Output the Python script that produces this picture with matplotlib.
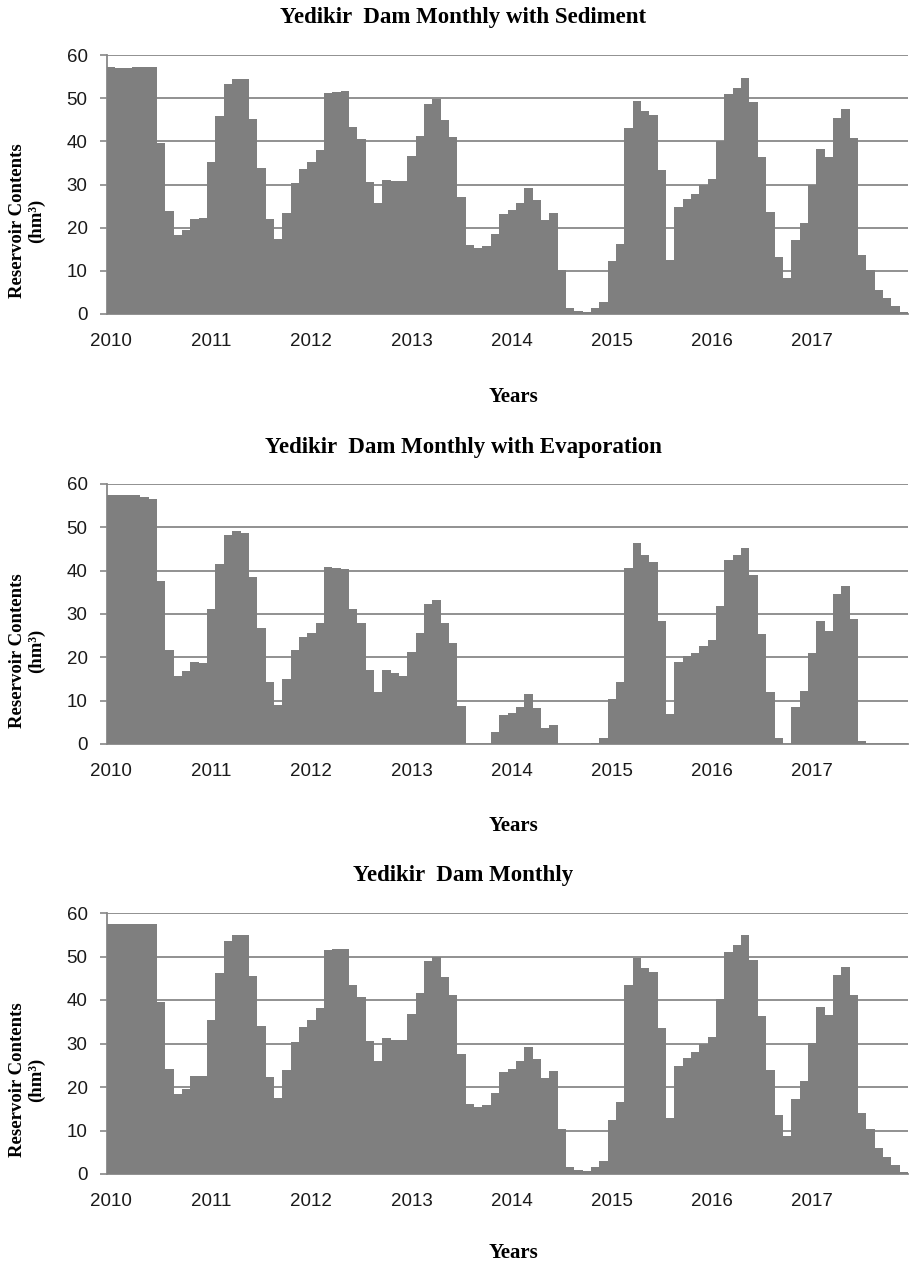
import matplotlib
matplotlib.use('Agg')
import matplotlib.pyplot as plt

# ---------------- data (hm3, monthly, Jan 2010 - Dec 2017) ----------------
years = ['2010', '2011', '2012', '2013', '2014', '2015', '2016', '2017']

sediment = [57.2, 57.0, 56.9, 57.2, 57.2, 57.2, 39.6, 23.9, 18.2, 19.4, 22.0, 22.2,
            35.2, 45.8, 53.2, 54.5, 54.5, 45.1, 33.8, 22.0, 17.3, 23.4, 30.3, 33.5,
            35.2, 37.9, 51.3, 51.4, 51.7, 43.3, 40.6, 30.5, 25.6, 31.0, 30.8, 30.8,
            36.6, 41.3, 48.7, 49.7, 44.9, 41.1, 27.2, 15.9, 15.3, 15.7, 18.5, 23.2,
            24.0, 25.6, 29.1, 26.3, 21.8, 23.4, 10.3, 1.4, 0.8, 0.4, 1.4, 2.7,
            12.2, 16.3, 43.2, 49.3, 47.1, 46.1, 33.4, 12.6, 24.9, 26.6, 27.8, 29.8,
            31.2, 40.0, 50.9, 52.3, 54.6, 49.0, 36.3, 23.7, 13.3, 8.3, 17.1, 21.1,
            29.9, 38.2, 36.3, 45.5, 47.5, 40.7, 13.7, 10.3, 5.6, 3.7, 1.8, 0.4]

evaporation = [57.4, 57.4, 57.4, 57.4, 57.1, 56.5, 37.7, 21.7, 15.8, 16.8, 18.9, 18.7,
               31.2, 41.5, 48.3, 49.2, 48.8, 38.6, 26.7, 14.3, 9.1, 15.1, 21.6, 24.6,
               25.6, 27.9, 40.9, 40.6, 40.3, 31.2, 27.9, 17.0, 11.9, 17.1, 16.4, 15.8,
               21.3, 25.7, 32.3, 33.3, 28.0, 23.4, 8.8, 0.0, 0.0, 0.0, 2.7, 6.8,
               7.1, 8.5, 11.6, 8.4, 3.7, 4.5, 0.0, 0.0, 0.0, 0.0, 0.2, 1.3,
               10.4, 14.2, 40.6, 46.5, 43.6, 42.0, 28.4, 6.9, 18.9, 20.2, 21.1, 22.7,
               24.0, 31.9, 42.5, 43.6, 45.2, 38.9, 25.3, 12.1, 1.3, 0.0, 8.5, 12.2,
               20.9, 28.3, 26.0, 34.7, 36.4, 28.8, 0.8, 0.0, 0.0, 0.0, 0.0, 0.0]

monthly = [57.5, 57.5, 57.5, 57.5, 57.5, 57.5, 39.6, 24.2, 18.5, 19.6, 22.5, 22.5,
           35.4, 46.2, 53.5, 55.0, 55.0, 45.5, 34.0, 22.2, 17.5, 23.8, 30.4, 33.9,
           35.4, 38.2, 51.6, 51.8, 51.8, 43.5, 40.7, 30.5, 26.0, 31.2, 30.9, 30.9,
           36.8, 41.7, 48.9, 49.9, 45.2, 41.2, 27.6, 16.2, 15.5, 15.9, 18.7, 23.4,
           24.1, 26.0, 29.2, 26.4, 22.0, 23.6, 10.4, 1.5, 0.9, 0.7, 1.5, 2.9,
           12.4, 16.6, 43.4, 49.7, 47.3, 46.4, 33.5, 12.8, 24.9, 26.7, 28.0, 30.0,
           31.6, 40.3, 51.1, 52.6, 55.0, 49.3, 36.4, 23.8, 13.5, 8.8, 17.3, 21.3,
           30.2, 38.4, 36.6, 45.7, 47.6, 41.1, 14.0, 10.4, 5.9, 4.0, 2.0, 0.5]

titles = ['Yedikir  Dam Monthly with Sediment',
          'Yedikir  Dam Monthly with Evaporation',
          'Yedikir  Dam Monthly']

# ---------------- layout (pixel positions) ----------------
W, H = 909, 1267
fig = plt.figure(figsize=(W / 100, H / 100), dpi=100)

panels = [  # (top px, bottom px, title y px, xlabel y px)
    (55, 314, 18, 397),
    (484, 744, 447, 826),
    (913, 1174, 876, 1253),
]
series = [sediment, evaporation, monthly]

serif = ['Liberation Serif', 'DejaVu Serif']
sans = ['Liberation Sans', 'DejaVu Sans']
bar_col = '#7f7f7f'
grid_col = '#888888'

for k, (top, bot, ty, xly) in enumerate(panels):
    left, right = 107, 908
    ax = fig.add_axes([left / W, 1 - bot / H, (right - left) / W, (bot - top) / H])
    vals = series[k]
    ax.bar(range(len(vals)), vals, width=1.0, color=bar_col, zorder=3, linewidth=0)
    ax.set_xlim(-0.5, len(vals) - 0.5)
    ax.set_ylim(0, 60)
    ax.set_yticks(range(0, 61, 10))
    ax.set_xticks(range(0, len(vals), 12))
    ax.set_xticklabels(years)
    ax.yaxis.grid(True, color=grid_col, linewidth=1.3, zorder=0)
    ax.set_axisbelow(True)
    for s in ['top', 'right']:
        ax.spines[s].set_visible(False)
    for s in ['left', 'bottom']:
        ax.spines[s].set_color(grid_col)
        ax.spines[s].set_linewidth(1.3)
    ax.tick_params(axis='y', length=5, width=1.2, color=grid_col, pad=9)
    ax.tick_params(axis='x', length=0, pad=14)
    for lab in ax.get_xticklabels() + ax.get_yticklabels():
        lab.set_family(sans)
        lab.set_fontsize(13.5)
        lab.set_color('#1a1a1a')
    ax.text(-0.1, 0.36, 'Reservoir Contents\n(hm\u00b3)', transform=ax.transAxes,
            rotation=90, ha='center', va='center', family=serif,
            fontweight='bold', fontsize=13.5, linespacing=1.15)
    fig.text(463 / W, 1 - ty / H, titles[k], ha='center', va='center',
             family=serif, fontweight='bold', fontsize=16.5)
    fig.text(513 / W, 1 - xly / H, 'Years', ha='center', va='center',
             family=serif, fontweight='bold', fontsize=15)

plt.savefig('out.png', dpi=100)
